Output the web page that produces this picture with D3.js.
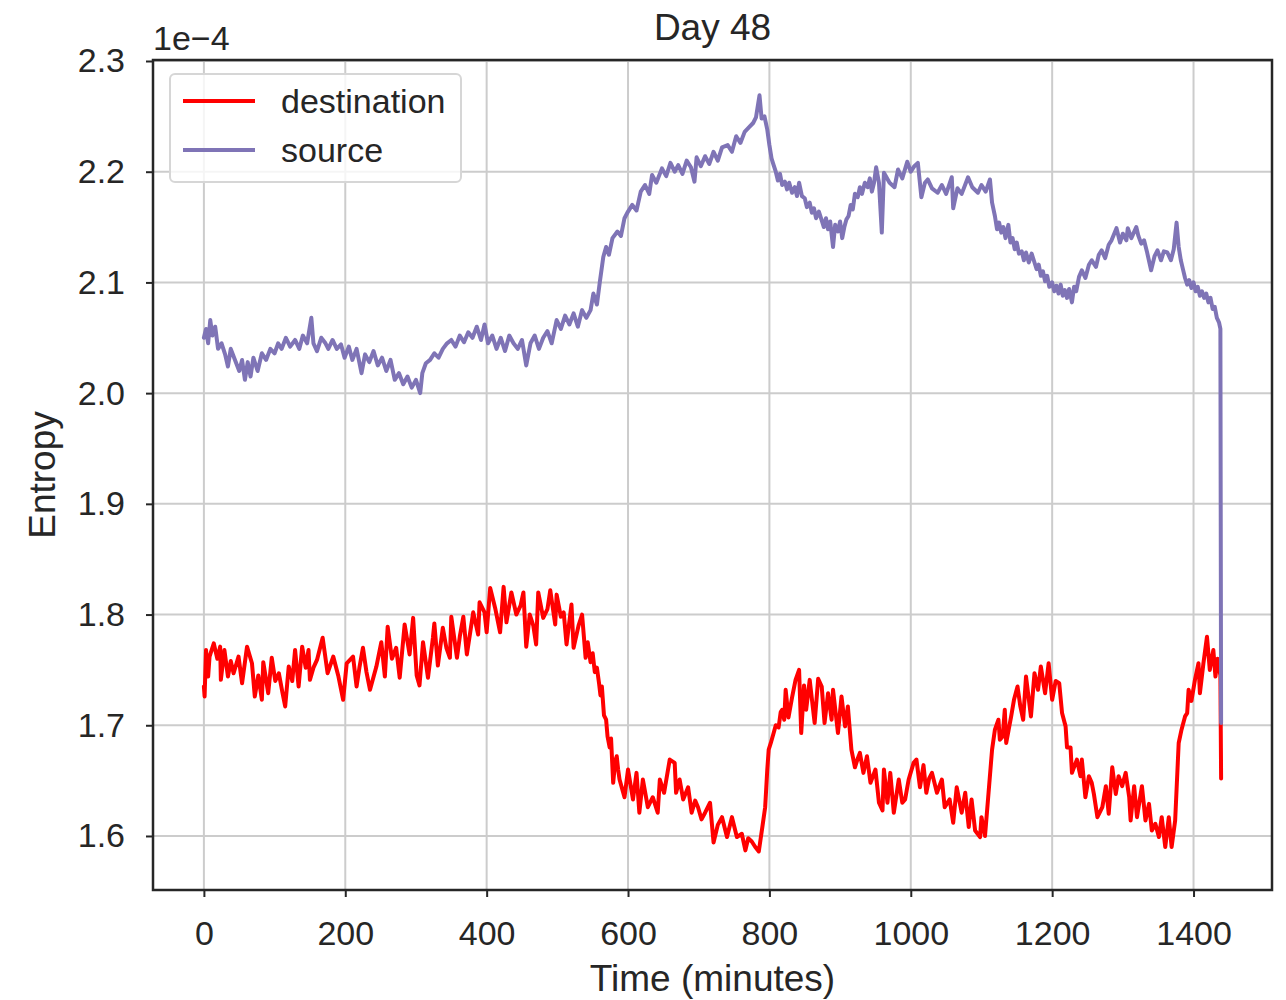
<!DOCTYPE html>
<html>
<head>
<meta charset="utf-8">
<script src="https://cdn.jsdelivr.net/npm/d3@7"></script>
<style>
  body { margin: 0; background: #fff; }
  text { font-family: "Liberation Sans", Arial, sans-serif; fill: #262626; }
</style>
</head>
<body>
<div id="chart"></div>
<script>
// values, in units of 1e-4
var srcMinutes = [0,3,6,9,12,16,20,25,30,34,38,44,50,54,58,62,66,70,76,82,88,94,100,105,110,116,122,129,135,140,146,152,155,160,166,172,176,182,188,194,199,205,210,216,223,228,234,240,246,252,258,264,270,276,282,288,294,300,306,309,314,320,326,332,338,344,350,356,362,368,374,380,386,392,397,402,408,414,420,426,432,438,444,450,456,462,468,474,480,486,492,499,505,511,517,523,529,535,541,547,551,556,560,565,569,573,578,585,590,595,600,606,612,618,624,630,634,640,648,654,660,666,671,677,683,689,694,697,703,709,715,721,727,733,741,747,753,759,765,771,777,781,786,789,793,797,
  800,803,806,809,812,815,818,822,825,828,832,836,839,842,846,850,853,857,860,863,866,870,874,877,880,883,886,890,893,897,900,903,906,909,912,915,918,921,925,928,931,935,939,942,945,948,951,955,959,962,
  970,977,982,988,995,1000,1005,1010,1015,1020,1024,1030,1038,1044,1050,1058,1060,1066,1072,1081,1087,1095,1100,1106,
  1112,1115,1119,1122,1125,1128,1131,1134,1138,1141,1144,1147,1150,1153,1157,1160,1163,1167,1171,1175,1178,1181,1184,1187,1190,1193,1196,1200,1203,1206,1209,1212,1215,1218,1221,1224,1228,1231,1234,1238,1242,
  1247,1252,1256,1262,1266,1270,1275,1280,1284,1291,1296,1300,1305,1307,1312,1319,1322,1326,1330,1334,1340,1345,1349,1354,1358,1363,1368,1372,
  1376,1379,1382,1385,1388,1391,1394,1397,1400,1403,1406,1409,1412,1415,1418,1421,1424,1427,1430,1433,1436,1438,1439];
var srcValues = [2.050,2.058,2.045,2.066,2.052,2.060,2.040,2.045,2.035,2.024,2.040,2.030,2.020,2.030,2.012,2.028,2.015,2.032,2.020,2.036,2.030,2.040,2.036,2.045,2.040,2.050,2.042,2.048,2.040,2.052,2.045,2.068,2.045,2.038,2.050,2.045,2.040,2.048,2.040,2.044,2.032,2.042,2.030,2.040,2.018,2.035,2.028,2.038,2.025,2.032,2.020,2.030,2.012,2.018,2.008,2.015,2.005,2.012,2.000,2.018,2.027,2.030,2.036,2.032,2.040,2.045,2.048,2.042,2.052,2.046,2.055,2.050,2.060,2.048,2.062,2.045,2.052,2.040,2.050,2.038,2.052,2.045,2.040,2.048,2.025,2.045,2.052,2.040,2.050,2.056,2.045,2.066,2.058,2.070,2.062,2.072,2.060,2.075,2.068,2.075,2.090,2.080,2.100,2.123,2.132,2.125,2.140,2.146,2.142,2.158,2.164,2.170,2.165,2.182,2.188,2.180,2.197,2.190,2.203,2.196,2.208,2.200,2.206,2.198,2.210,2.204,2.191,2.213,2.205,2.214,2.207,2.218,2.210,2.222,2.224,2.218,2.232,2.226,2.236,2.240,2.244,2.249,2.269,2.248,2.250,2.238,
  2.224,2.212,2.206,2.200,2.192,2.198,2.188,2.191,2.184,2.190,2.181,2.186,2.178,2.190,2.178,2.176,2.168,2.172,2.163,2.167,2.158,2.164,2.156,2.150,2.158,2.148,2.155,2.132,2.152,2.146,2.155,2.140,2.150,2.157,2.160,2.170,2.166,2.180,2.177,2.186,2.180,2.190,2.186,2.194,2.182,2.190,2.204,2.190,2.145,2.199,
  2.190,2.186,2.202,2.194,2.209,2.200,2.205,2.208,2.177,2.190,2.193,2.185,2.181,2.188,2.180,2.195,2.167,2.185,2.180,2.195,2.186,2.181,2.188,2.182,
  2.193,2.172,2.160,2.148,2.154,2.145,2.150,2.140,2.152,2.136,2.140,2.130,2.136,2.126,2.128,2.120,2.127,2.118,2.126,2.118,2.112,2.116,2.106,2.110,2.101,2.106,2.096,2.100,2.092,2.097,2.090,2.098,2.088,2.093,2.086,2.094,2.082,2.096,2.092,2.105,2.111,
  2.104,2.116,2.120,2.114,2.125,2.129,2.122,2.134,2.138,2.149,2.136,2.144,2.138,2.149,2.140,2.150,2.142,2.135,2.138,2.128,2.111,2.124,2.129,2.120,2.128,2.127,2.120,2.130,
  2.154,2.132,2.120,2.112,2.104,2.098,2.102,2.095,2.100,2.092,2.096,2.088,2.092,2.086,2.090,2.082,2.086,2.076,2.078,2.068,2.064,2.058,1.702];

var dstMinutes = [0,1,3,6,8,14,19,23,24,29,34,38,42,49,54,61,68,72,77,82,84,91,96,101,106,111,115,120,125,129,134,139,144,148,150,155,160,168,175,183,190,197,202,211,216,220,225,230,235,244,251,256,260,266,272,277,284,291,296,301,305,310,317,324,326,331,338,343,348,350,358,362,367,372,377,381,388,390,397,400,405,412,419,424,428,435,442,448,452,456,461,466,470,473,480,486,490,497,499,505,509,513,520,523,530,535,
  540,543,547,550,553,556,559,561,563,566,569,571,574,576,579,582,584,586,588,
  595,600,607,612,616,621,628,635,642,645,651,659,666,668,673,678,685,690,695,699,704,709,716,721,727,733,740,747,754,761,766,770,775,780,785,790,794,
  797,799,802,806,809,813,816,818,821,823,
  827,832,837,842,845,849,852,857,864,869,874,878,883,888,890,897,902,907,911,916,921,925,928,933,938,943,950,955,960,962,967,971,976,983,988,992,997,1004,1008,1013,1018,1022,1026,1030,1037,1044,1048,1055,1060,1065,1072,1077,1082,1086,1091,1098,1100,1105,1110,1115,1119,1124,1126,1130,1133,1135,1142,1146,1151,1155,1159,1163,1170,1175,1180,1184,1190,1195,1200,1205,1210,1214,1219,1221,1226,1228,1235,1240,1242,1247,1252,1256,1259,1264,1271,1276,1280,1285,1290,1294,1299,1304,1309,1311,1316,1320,1327,1332,1337,1341,1346,1351,1355,1360,1365,1369,1374,1376,1379,1383,1388,1391,1393,1397,1402,1407,1409,1414,1419,1423,1428,1431,1434,1438,1439];
var dstValues = [1.735,1.726,1.768,1.744,1.762,1.774,1.760,1.771,1.741,1.768,1.744,1.758,1.747,1.762,1.738,1.771,1.756,1.726,1.745,1.723,1.757,1.729,1.761,1.740,1.747,1.730,1.717,1.753,1.740,1.768,1.735,1.771,1.752,1.768,1.741,1.752,1.759,1.779,1.747,1.762,1.745,1.723,1.756,1.762,1.735,1.752,1.770,1.748,1.732,1.753,1.775,1.744,1.789,1.760,1.770,1.743,1.791,1.764,1.797,1.745,1.736,1.775,1.743,1.779,1.792,1.754,1.788,1.770,1.761,1.798,1.761,1.780,1.798,1.764,1.785,1.802,1.782,1.811,1.802,1.784,1.824,1.806,1.784,1.825,1.793,1.820,1.800,1.808,1.820,1.771,1.800,1.790,1.773,1.820,1.797,1.805,1.822,1.791,1.818,1.798,1.802,1.773,1.809,1.770,1.790,1.800,
  1.761,1.775,1.757,1.765,1.748,1.752,1.738,1.727,1.735,1.709,1.705,1.690,1.680,1.688,1.648,1.668,1.672,1.660,1.651,
  1.635,1.660,1.633,1.657,1.621,1.651,1.626,1.635,1.621,1.651,1.639,1.669,1.666,1.639,1.651,1.633,1.644,1.621,1.632,1.626,1.615,1.621,1.630,1.594,1.610,1.617,1.599,1.617,1.599,1.602,1.587,1.598,1.595,1.590,1.586,1.608,1.626,
  1.660,1.678,1.684,1.693,1.700,1.698,1.712,1.714,1.705,1.732,
  1.707,1.725,1.741,1.750,1.693,1.736,1.714,1.741,1.702,1.742,1.735,1.702,1.729,1.705,1.732,1.693,1.726,1.699,1.717,1.678,1.662,1.670,1.675,1.657,1.672,1.648,1.660,1.630,1.623,1.660,1.630,1.657,1.621,1.651,1.630,1.633,1.651,1.666,1.669,1.644,1.664,1.639,1.652,1.657,1.639,1.651,1.626,1.633,1.612,1.644,1.621,1.639,1.608,1.633,1.605,1.599,1.617,1.600,1.639,1.678,1.696,1.705,1.687,1.690,1.714,1.684,1.708,1.723,1.735,1.717,1.705,1.744,1.708,1.747,1.732,1.753,1.729,1.756,1.723,1.740,1.738,1.711,1.699,1.680,1.680,1.657,1.669,1.654,1.669,1.635,1.654,1.648,1.638,1.617,1.626,1.645,1.620,1.662,1.638,1.654,1.645,1.657,1.635,1.614,1.645,1.617,1.645,1.614,1.629,1.605,1.611,1.599,1.617,1.590,1.617,1.590,1.614,1.642,1.684,1.696,1.708,1.711,1.732,1.722,1.741,1.756,1.729,1.756,1.780,1.750,1.768,1.744,1.760,1.745,1.652];

var xTicks = [0, 200, 400, 600, 800, 1000, 1200, 1400];
var yTicks = [1.6, 1.7, 1.8, 1.9, 2.0, 2.1, 2.2, 2.3];
var seriesNames = ["destination", "source"];
var seriesColors = ["#ff0000", "#7f74b6"];

var width = 1286,
    height = 1000;
var margin = {left: 153, right: 14, top: 60, bottom: 110};
var ink = "#262626";

var svg = d3.select("#chart")
    .append("svg")
    .attr("width", width)
    .attr("height", height);

var x = d3.scaleLinear()
    .domain([-72, 1511])
    .range([margin.left, width - margin.right]);

var y = d3.scaleLinear()
    .domain([1.5512, 2.3009])
    .range([height - margin.bottom, margin.top]);

// grid
svg.append("g")
    .selectAll("line")
    .data(xTicks)
    .enter()
    .append("line")
    .attr("x1", function (d) { return x(d); })
    .attr("x2", function (d) { return x(d); })
    .attr("y1", y.range()[0])
    .attr("y2", y.range()[1])
    .attr("stroke", "#cccccc")
    .attr("stroke-width", 2);

svg.append("g")
    .selectAll("line")
    .data(yTicks)
    .enter()
    .append("line")
    .attr("x1", x.range()[0])
    .attr("x2", x.range()[1])
    .attr("y1", function (d) { return y(d); })
    .attr("y2", function (d) { return y(d); })
    .attr("stroke", "#cccccc")
    .attr("stroke-width", 2);

svg.append("clipPath")
    .attr("id", "plotArea")
    .append("rect")
    .attr("x", x.range()[0])
    .attr("y", y.range()[1])
    .attr("width", x.range()[1] - x.range()[0])
    .attr("height", y.range()[0] - y.range()[1]);

var line = d3.line()
    .x(function (d) { return x(d[0]); })
    .y(function (d) { return y(d[1]); });

var series = [
    d3.zip(dstMinutes, dstValues),
    d3.zip(srcMinutes, srcValues)
];

svg.append("g")
    .attr("clip-path", "url(#plotArea)")
    .selectAll("path")
    .data(series)
    .enter()
    .append("path")
    .attr("d", line)
    .attr("fill", "none")
    .attr("stroke", function (d, i) { return seriesColors[i]; })
    .attr("stroke-width", 4)
    .attr("stroke-linejoin", "round")
    .attr("stroke-linecap", "round");

// axes
var xAxis = svg.append("g")
    .attr("transform", "translate(0," + y.range()[0] + ")")
    .call(d3.axisBottom(x).tickValues(xTicks).tickFormat(d3.format("d")).tickSizeOuter(0).tickSize(7).tickPadding(24));

var yAxis = svg.append("g")
    .attr("transform", "translate(" + x.range()[0] + ",0)")
    .call(d3.axisLeft(y).tickValues(yTicks).tickFormat(d3.format(".1f")).tickSizeOuter(0).tickSize(7).tickPadding(21));

[xAxis, yAxis].forEach(function (g) {
    g.select(".domain").remove();
    g.selectAll(".tick line").attr("stroke", ink).attr("stroke-width", 2);
    g.selectAll(".tick text")
        .attr("font-size", 34)
        .attr("font-family", "Liberation Sans, Arial, sans-serif")
        .attr("fill", ink);
});

// frame
svg.append("rect")
    .attr("x", x.range()[0])
    .attr("y", y.range()[1])
    .attr("width", x.range()[1] - x.range()[0])
    .attr("height", y.range()[0] - y.range()[1])
    .attr("fill", "none")
    .attr("stroke", ink)
    .attr("stroke-width", 2.5);

// labels
svg.append("text")
    .attr("x", (x.range()[0] + x.range()[1]) / 2)
    .attr("y", 991)
    .attr("text-anchor", "middle")
    .attr("font-size", 37)
    .text("Time (minutes)");

svg.append("text")
    .attr("transform", "translate(55," + (y.range()[0] + y.range()[1]) / 2 + ") rotate(-90)")
    .attr("text-anchor", "middle")
    .attr("font-size", 37)
    .text("Entropy");

svg.append("text")
    .attr("x", (x.range()[0] + x.range()[1]) / 2)
    .attr("y", 40)
    .attr("text-anchor", "middle")
    .attr("font-size", 37)
    .text("Day 48");

svg.append("text")
    .attr("x", x.range()[0])
    .attr("y", 50)
    .attr("font-size", 34)
    .text("1e\u22124");

// legend
var legend = svg.append("g")
    .attr("transform", "translate(170,74)");

legend.append("rect")
    .attr("width", 291)
    .attr("height", 108)
    .attr("rx", 5)
    .attr("fill", "#fff")
    .attr("fill-opacity", 0.8)
    .attr("stroke", "#d6d6d6")
    .attr("stroke-width", 2);

var items = legend.selectAll(".item")
    .data(seriesNames)
    .enter()
    .append("g")
    .attr("transform", function (d, i) { return "translate(0," + (27 + i * 49) + ")"; });

items.append("line")
    .attr("x1", 13)
    .attr("x2", 85)
    .attr("stroke", function (d, i) { return seriesColors[i]; })
    .attr("stroke-width", 4);

items.append("text")
    .attr("x", 111)
    .attr("y", 12)
    .attr("font-size", 34)
    .text(function (d) { return d; });
</script>
</body>
</html>
